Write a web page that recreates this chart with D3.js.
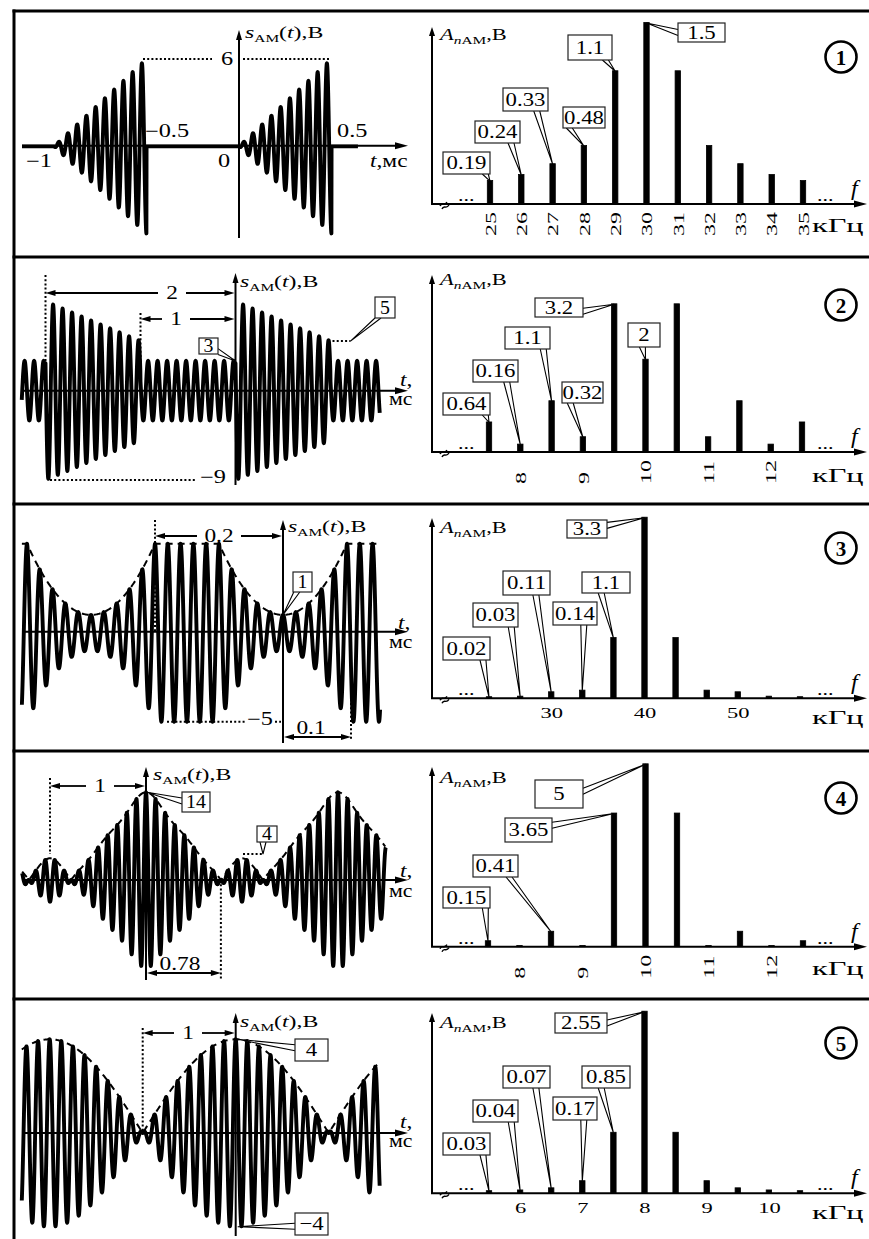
<!DOCTYPE html>
<html><head><meta charset="utf-8">
<script src="https://cdn.jsdelivr.net/npm/d3@7"></script>
<style>
body{margin:0;background:#fff}
svg{display:block}
text{font-family:"Liberation Serif","Times New Roman",serif;fill:#000}
</style>
</head><body>
<script>
// ================= DATA =================
// Spectra: frequencies (kHz) and amplitudes (V)
const spec1Freq = [25,26,27,28,29,30,31,32,33,34,35];
const spec1Amp  = [0.19,0.24,0.33,0.48,1.1,1.5,1.1,0.48,0.33,0.24,0.19];
const spec1Ticks = [25,26,27,28,29,30,31,32,33,34,35];
const spec1Notes = ["0.19","0.24","0.33","0.48","1.1","1.5"];

const spec2Freq = [7.5,8,8.5,9,9.5,10,10.5,11,11.5,12,12.5];
const spec2Amp  = [0.64,0.16,1.1,0.32,3.2,2,3.2,0.32,1.1,0.16,0.64];
const spec2Ticks = [8,9,10,11,12];
const spec2Notes = ["0.64","0.16","1.1","0.32","3.2","2"];

const spec3Freq = [23.33,26.67,30,33.33,36.67,40,43.33,46.67,50,53.33,56.67];
const spec3Amp  = [0.02,0.03,0.11,0.14,1.1,3.3,1.1,0.14,0.11,0.03,0.02];
const spec3Ticks = [30,40,50];
const spec3Notes = ["0.02","0.03","0.11","0.14","1.1","3.3"];

const spec4Freq = [7.5,8,8.5,9,9.5,10,10.5,11,11.5,12,12.5];
const spec4Amp  = [0.15,0.02,0.41,0.02,3.65,5,3.65,0.02,0.41,0.02,0.15];
const spec4Ticks = [8,9,10,11,12];
const spec4Notes = ["0.15",null,"0.41",null,"3.65","5"];

const spec5Freq = [5.5,6,6.5,7,7.5,8,8.5,9,9.5,10,10.5];
const spec5Amp  = [0.03,0.04,0.07,0.17,0.85,2.55,0.85,0.17,0.07,0.04,0.03];
const spec5Ticks = [6,7,8,9,10];
const spec5Notes = ["0.03","0.04","0.07","0.17","0.85","2.55"];

// Time signals (t in ms, V, carrier in kHz as drawn)
const sig1 = {period:1, burst:0.5, peak:6, carrier:20};
const sig2 = {period:2, pulse:1, start:9, end:5, base:3, carrier:10, lag:0.08};
const sig3 = {period:0.3, half:0.1, max:5, min:1, carrier:50};
const sig4 = {sideStep:0.5, carrier:10};            // envelope from spec4Amp
const sig5 = {period:2, peak:4, carrier:8};

// ================= HELPERS =================
const svg = d3.select("body").append("svg").attr("width",869).attr("height",1239);
const FONT = '"Liberation Serif","Times New Roman",serif';

function ln(g,x1,y1,x2,y2,w=2,dash){
  const l=g.append("line").attr("x1",x1).attr("y1",y1).attr("x2",x2).attr("y2",y2)
    .attr("stroke","#000").attr("stroke-width",w);
  if(dash) l.attr("stroke-dasharray",dash);
  return l;
}
function head(g,x,y,dir,len=10,wid=6){
  const a={r:0,l:Math.PI,u:-Math.PI/2,d:Math.PI/2}[dir];
  const c=Math.cos(a),s=Math.sin(a);
  const bx=x-len*c,by=y-len*s,px=-s*wid/2,py=c*wid/2;
  g.append("path").attr("d",`M${x},${y}L${bx+px},${by+py}L${bx-px},${by-py}Z`).attr("fill","#000");
}
function txt(g,x,y,str,o={}){
  const sx=o.sx??1.35, size=o.size??18;
  const t=g.append("text").attr("transform",`translate(${x},${y}) scale(${sx},1)`)
    .attr("font-size",size).attr("text-anchor",o.anchor||"start").text(str);
  if(o.italic) t.attr("font-style","italic");
  if(o.weight) t.attr("font-weight",o.weight);
  return t;
}
function tComma(g,x,y){
  const t=g.append("text").attr("transform",`translate(${x},${y}) scale(1.3,1)`).attr("font-size",18);
  t.append("tspan").attr("font-style","italic").text("t");
  t.append("tspan").text(",");
}
function sLabel(g,x,y){
  const t=g.append("text").attr("transform",`translate(${x},${y}) scale(1.4,1)`).attr("font-size",17);
  t.append("tspan").attr("font-style","italic").text("s");
  t.append("tspan").attr("font-size",11).attr("dy",4).text("АМ");
  t.append("tspan").attr("dy",-4).text("(");
  t.append("tspan").attr("font-style","italic").text("t");
  t.append("tspan").text("),В");
}
function aLabel(g,x,y){
  const t=g.append("text").attr("transform",`translate(${x},${y}) scale(1.4,1)`).attr("font-size",16);
  t.append("tspan").attr("font-style","italic").text("A");
  t.append("tspan").attr("font-size",11).attr("dy",4).attr("font-style","italic").text("n");
  t.append("tspan").attr("font-size",11).text("АМ");
  t.append("tspan").attr("dy",-4).text(",В");
}
function dim(g,x1,x2,y,label,lx,gap,above){
  if(above){
    ln(g,x1+6,y,x2-6,y,1.8);
    txt(g,lx,y-3,label,{anchor:"middle",sx:1.3});
  } else {
    ln(g,x1+6,y,lx-gap,y,1.8); ln(g,lx+gap,y,x2-6,y,1.8);
    txt(g,lx,y+6,label,{anchor:"middle",sx:1.3});
  }
  head(g,x1,y,"l",10,6); head(g,x2,y,"r",10,6);
}
function callout(g,label,box,target,fs=19,sx=1.2){
  const [bx,by,bw,bh,side,frac]=box;
  let p,dir;
  if(side==="b"){p=[bx+bw*frac,by+bh];dir=[1,0];}
  else if(side==="t"){p=[bx+bw*frac,by];dir=[1,0];}
  else if(side==="l"){p=[bx,by+bh*frac];dir=[0,1];}
  else {p=[bx+bw,by+bh*frac];dir=[0,1];}
  const hw=3;
  const a=[p[0]-dir[0]*hw,p[1]-dir[1]*hw], b=[p[0]+dir[0]*hw,p[1]+dir[1]*hw];
  g.append("path").attr("d",`M${a[0]},${a[1]}L${target[0]},${target[1]}L${b[0]},${b[1]}`)
    .attr("fill","#fff").attr("stroke","#000").attr("stroke-width",1.1);
  g.append("rect").attr("x",bx).attr("y",by).attr("width",bw).attr("height",bh)
    .attr("fill","#fff").attr("stroke","#222").attr("stroke-width",1.2);
  txt(g,bx+bw/2,by+bh/2+fs*0.34,label,{anchor:"middle",size:fs,sx:sx});
}
function wave(g,xs,ys,fn,t0,t1,step,w=3.9){
  const pts=d3.range(t0,t1,step).map(t=>[t,fn(t)]);
  g.append("path").datum(pts).attr("d",d3.line().x(d=>xs(d[0])).y(d=>ys(d[1])))
    .attr("fill","none").attr("stroke","#000").attr("stroke-width",w).attr("stroke-linejoin","round");
}
function envLine(g,xs,ys,fn,t0,t1){
  const pts=d3.range(t0,t1,0.002*(t1-t0)).map(t=>[t,fn(t)]);
  g.append("path").datum(pts).attr("d",d3.line().x(d=>xs(d[0])).y(d=>ys(d[1])))
    .attr("fill","none").attr("stroke","#000").attr("stroke-width",2).attr("stroke-dasharray","7,5");
}
function timeAxes(g,x0,y0,yTop,yBot){
  ln(g,22,y0,396,y0,2); head(g,408,y0,"r",13,7);
  ln(g,x0,yBot,x0,yTop+8,2); head(g,x0,yTop,"u",10,6);
}
const mod=(a,b)=>((a%b)+b)%b;

// spectrum panel
function spectrum(o){
  const g=svg.append("g");
  const xs=d3.scaleLinear().domain([o.freq[0],o.freq[o.freq.length-1]]).range(o.xr);
  const ys=d3.scaleLinear().domain([0,d3.max(o.amp)]).range([o.y0,o.yMax]);
  // axes
  ln(g,431,o.y0,856,o.y0,2); head(g,867,o.y0,"r",13,7);
  ln(g,432,o.y0,432,o.top+8,2); head(g,432,o.top,"u",9,6);
  // break mark
  g.append("path").attr("d",`M440,${o.y0+2} c2,-5 4,1 7,-4 M442,${o.y0+5} c2,-5 4,1 7,-4`)
    .attr("fill","none").attr("stroke","#000").attr("stroke-width",1.4);
  txt(g,458,o.y0-3,"...",{size:17,sx:1.3});
  txt(g,817,o.y0-3,"...",{size:17,sx:1.3});
  // bars
  const bars=o.freq.map((f,i)=>({f,a:o.amp[i]}));
  g.selectAll("rect.bar").data(bars).join("rect").attr("class","bar")
    .attr("x",d=>xs(d.f)-2.7).attr("y",d=>ys(d.a)-0.5).attr("width",5.4)
    .attr("height",d=>o.y0-ys(d.a)+0.5).attr("fill","#000").attr("stroke","#000").attr("stroke-width",0.8);
  // ticks
  const ax=g.append("g").attr("transform",`translate(0,${o.y0})`)
    .call(d3.axisBottom(xs).tickValues(o.ticks).tickSize(0).tickFormat(d3.format("d")));
  ax.select(".domain").remove();
  ax.attr("font-family",FONT).attr("font-size",15);
  ax.selectAll("text").attr("fill","#000").attr("x",0).attr("y",0).attr("dy",null)
    .attr("transform",o.rot?"translate(0,32) rotate(-90) scale(1.6,1)":"translate(0,20) scale(1.5,1)")
    .attr("text-anchor",o.rot?"start":"middle").attr("dominant-baseline",o.rot?"central":null);
  // labels
  aLabel(g,440,o.labelY);
  txt(g,851,o.y0-9,"f",{italic:true,size:20,sx:1.2});
  txt(g,812,o.unitY,"кГц",{size:19,sx:1.7});
  // circled number
  g.append("circle").attr("cx",841).attr("cy",o.circleY).attr("r",15.5).attr("fill","none")
    .attr("stroke","#000").attr("stroke-width",2.6);
  g.append("text").attr("x",841).attr("y",o.circleY+7.5).attr("text-anchor","middle")
    .attr("font-family","DejaVu Sans").attr("font-weight","bold").attr("font-size",21).text(o.num);
  // callouts
  o.notes.forEach((lab,i)=>{
    if(!lab) return;
    const box=o.boxes[i];
    callout(g,lab,box,[xs(o.freq[i]),ys(o.amp[i])]);
  });
  return g;
}

// ================= FRAME =================
const frame=svg.append("g");
ln(frame,12.5,11,869,11,3);
ln(frame,14,9.5,14,1239,3);
[257,504,751,999].forEach(y=>ln(frame,12.5,y,869,y,3));

// ================= ROW 1 =================
{
  const g=svg.append("g");
  const xs=d3.scaleLinear().domain([-1,0.5]).range([54,331.5]);
  const ys=d3.scaleLinear().domain([-6,6]).range([145.7+88,145.7-86.7]);
  const fn=t=>{const p=mod(t,sig1.period);
    return p<sig1.burst? sig1.peak*(p/sig1.burst)*Math.cos(2*Math.PI*sig1.carrier*(p-sig1.burst+0.5/sig1.carrier)):0;};
  wave(g,xs,ys,fn,-1.173,0.643,1/(sig1.carrier*60));
  timeAxes(g,xs(0),145.7,30,238);
  ln(g,143,ys(6),212,ys(6),2,"2,2.2"); ln(g,243,ys(6),330,ys(6),2,"2,2.2");
  sLabel(g,245,38);
  txt(g,227,65,"6",{anchor:"middle"});
  txt(g,145,137,"−0.5");
  txt(g,337,137,"0.5");
  txt(g,26,167,"−1");
  txt(g,218,167,"0");
  const tl=g.append("text").attr("transform","translate(370,167) scale(1.3,1)").attr("font-size",18);
  tl.append("tspan").attr("font-style","italic").text("t");
  tl.append("tspan").text(",мс");
}
spectrum({freq:spec1Freq,amp:spec1Amp,ticks:spec1Ticks,notes:spec1Notes,xr:[490,803],
  y0:204,yMax:23,top:27,rot:true,labelY:40,unitY:232,circleY:57,num:"1",
  boxes:[[443,152,47,22,"b",0.9],[475,121,45,22,"b",0.8],[503,88,45,23,"b",0.75],
         [563,107,42,21,"b",0.15],[568,35,44,25,"b",0.85],[678,23,47,19,"l",0.5]]});

// ================= ROW 2 =================
{
  const g=svg.append("g");
  const xs=d3.scaleLinear().domain([0,1]).range([235.5,330.5]);
  const ys=d3.scaleLinear().domain([-9,9]).range([390.7+89.3,390.7-89.3]);
  const env=t=>{const p=mod(t,sig2.period);
    return p<sig2.pulse? sig2.start-(sig2.start-sig2.end)*p/sig2.pulse : sig2.base;};
  const fn=t=>env(t)*Math.cos(2*Math.PI*sig2.carrier*(t-sig2.lag));
  wave(g,xs,ys,fn,-2.25,1.52,1/(sig2.carrier*60));
  timeAxes(g,xs(0),390.7,273,485);
  ln(g,xs(-2),275,xs(-2),390.7,2,"2,2.2");
  ln(g,50,ys(-9),197,ys(-9),2,"2,2.2");
  ln(g,xs(-1),313,xs(-1),ys(3),2,"2,2.2");
  ln(g,xs(1)+2,ys(5),xs(1)+20,ys(5),2,"2,2.2");
  dim(g,xs(-2),xs(0)-1,293,"2",172,14);
  dim(g,xs(-1),xs(0)-1,319,"1",176,14);
  sLabel(g,240,287);
  txt(g,200,483,"−9");
  tComma(g,400,386);
  txt(g,389,405,"мс",{size:19,sx:1.15});
  callout(g,"3",[199,338,19,16,"r",0.85],[xs(0),ys(3)],18,1.1);
  callout(g,"5",[375,297,20,21,"b",0.15],[xs(1)+20,ys(5)],18,1.1);
}
spectrum({freq:spec2Freq,amp:spec2Amp,ticks:spec2Ticks,notes:spec2Notes,xr:[489,802],
  y0:452,yMax:304.3,top:275,rot:true,labelY:285,unitY:482,circleY:305,num:"2",
  boxes:[[443,393,47,22,"b",0.9],[473,360,45,22,"b",0.75],[505,327,45,22,"b",0.85],
         [562,382,41,21,"b",0.2],[535,298,48,19,"r",0.7],[628,323,32,24,"b",0.45]]});

// ================= ROW 3 =================
{
  const g=svg.append("g");
  const xs=d3.scaleLinear().domain([0,0.1]).range([283,347]);
  const ys=d3.scaleLinear().domain([-5,5]).range([631.7+90,631.7-88]);
  const env=t=>{let p=mod(t,sig3.period); if(p>sig3.period/2) p-=sig3.period;
    return Math.abs(p)<sig3.half? sig3.min+(sig3.max-sig3.min)*(p/sig3.half)**2 : sig3.max;};
  const fn=t=>env(t)*Math.cos(2*Math.PI*sig3.carrier*t);
  wave(g,xs,ys,fn,-0.408,0.152,1/(sig3.carrier*60));
  envLine(g,xs,ys,env,-0.408,0.152);
  timeAxes(g,xs(0),631.7,520,743);
  ln(g,xs(-0.2),520,xs(-0.2),631.7,2,"2,2.2");
  ln(g,167,ys(-5),245,ys(-5),2,"2,2.2"); ln(g,275,ys(-5),281,ys(-5),2,"2,2.2");
  ln(g,xs(0.1)+4,631.7,xs(0.1)+4,740,2,"2,2.2");
  dim(g,xs(-0.2),xs(0)-1,536,"0.2",219,22);
  dim(g,xs(0)+1,xs(0.1)+4,737,"0.1",311,0,true);
  sLabel(g,288,532);
  txt(g,247,725,"−5");
  tComma(g,398,629);
  txt(g,389,648,"мс",{size:19,sx:1.15});
  callout(g,"1",[293,572,19,20,"b",0.2],[xs(0),ys(1)],18,1.1);
}
spectrum({freq:spec3Freq,amp:spec3Amp,ticks:spec3Ticks,notes:spec3Notes,xr:[489,800],
  y0:698.3,yMax:517.7,top:518,rot:false,labelY:533,unitY:724,circleY:548,num:"3",
  boxes:[[443,637,47,23,"b",0.85],[473,603,45,24,"b",0.85],[503,571,47,24,"b",0.7],
         [553,602,44,23,"b",0.7],[582,572,48,21,"b",0.4],[567,520,40,18,"r",0.3]]});

// ================= ROW 4 =================
{
  const g=svg.append("g");
  const xs=d3.scaleLinear().domain([0,1]).range([146,242]);
  const ys=d3.scaleLinear().domain([-14,14]).range([880+91,880-91]);
  const c=5, Om=2*Math.PI*sig4.sideStep;
  const env=t=>spec4Amp[c]+2*d3.sum(d3.range(1,6),k=>spec4Amp[c+k]*Math.cos(k*Om*t));
  const fn=t=>env(t)*Math.cos(2*Math.PI*sig4.carrier*t);
  wave(g,xs,ys,fn,-1.29,2.5,1/(sig4.carrier*60));
  envLine(g,xs,ys,t=>Math.abs(env(t)),-1.29,2.5);
  timeAxes(g,xs(0),880,767,980);
  ln(g,xs(-1),778,xs(-1),ys(4),2,"2,2.2");
  ln(g,xs(0.78),880,xs(0.78),980,2,"2,2.2");
  ln(g,xs(1)+1,ys(4),xs(1)+21,ys(4),2,"2,2.2");
  dim(g,xs(-1),xs(0)-1,786,"1",100,14);
  dim(g,xs(0)+1,xs(0.78),973,"0.78",180,0,true);
  sLabel(g,153,780);
  tComma(g,400,877);
  txt(g,389,897,"мс",{size:19,sx:1.15});
  callout(g,"14",[182,792,28,20,"l",0.45],[xs(0)+1,ys(env(0))],18,1.1);
  callout(g,"4",[257,826,20,16,"b",0.3],[xs(1)+21,ys(4)],18,1.1);
}
spectrum({freq:spec4Freq,amp:spec4Amp,ticks:spec4Ticks,notes:spec4Notes,xr:[488,803],
  y0:946.7,yMax:764.3,top:767,rot:true,labelY:783,unitY:975,circleY:798,num:"4",
  boxes:[[443,887,47,21,"b",0.9],null,[473,855,45,22,"b",0.8],null,
         [505,818,47,24,"r",0.3],[535,780,48,28,"r",0.4]]});

// ================= ROW 5 =================
{
  const g=svg.append("g");
  const xs=d3.scaleLinear().domain([0,1]).range([235.7,328.7]);
  const ys=d3.scaleLinear().domain([-4,4]).range([1133+93.7,1133-93.7]);
  const env=t=>sig5.peak*Math.abs(Math.cos(Math.PI*t/sig5.period));
  const fn=t=>env(t)*Math.cos(2*Math.PI*sig5.carrier*t);
  wave(g,xs,ys,fn,-2.3,1.55,1/(sig5.carrier*60));
  envLine(g,xs,ys,env,-2.3,1.55);
  timeAxes(g,xs(0),1133,1013,1236);
  ln(g,xs(-1),1028,xs(-1),1133,2,"2,2.2");
  dim(g,xs(-1),xs(0)-1,1033,"1",188,14);
  sLabel(g,240,1027);
  tComma(g,400,1128);
  txt(g,389,1147,"мс",{size:19,sx:1.15});
  callout(g,"4",[295,1039,33,22,"l",0.4],[xs(0)+2,ys(4)],19,1.2);
  callout(g,"−4",[295,1213,33,22,"l",0.6],[xs(0)+2,ys(-4)],19,1.2);
}
spectrum({freq:spec5Freq,amp:spec5Amp,ticks:spec5Ticks,notes:spec5Notes,xr:[489,800],
  y0:1193.3,yMax:1011.7,top:1013,rot:false,labelY:1028,unitY:1219,circleY:1043,num:"5",
  boxes:[[443,1133,47,22,"b",0.85],[473,1100,45,22,"b",0.85],[503,1066,47,22,"b",0.7],
         [553,1097,44,23,"b",0.7],[582,1066,48,22,"b",0.4],[555,1013,52,20,"r",0.5]]});
</script>
</body></html>
